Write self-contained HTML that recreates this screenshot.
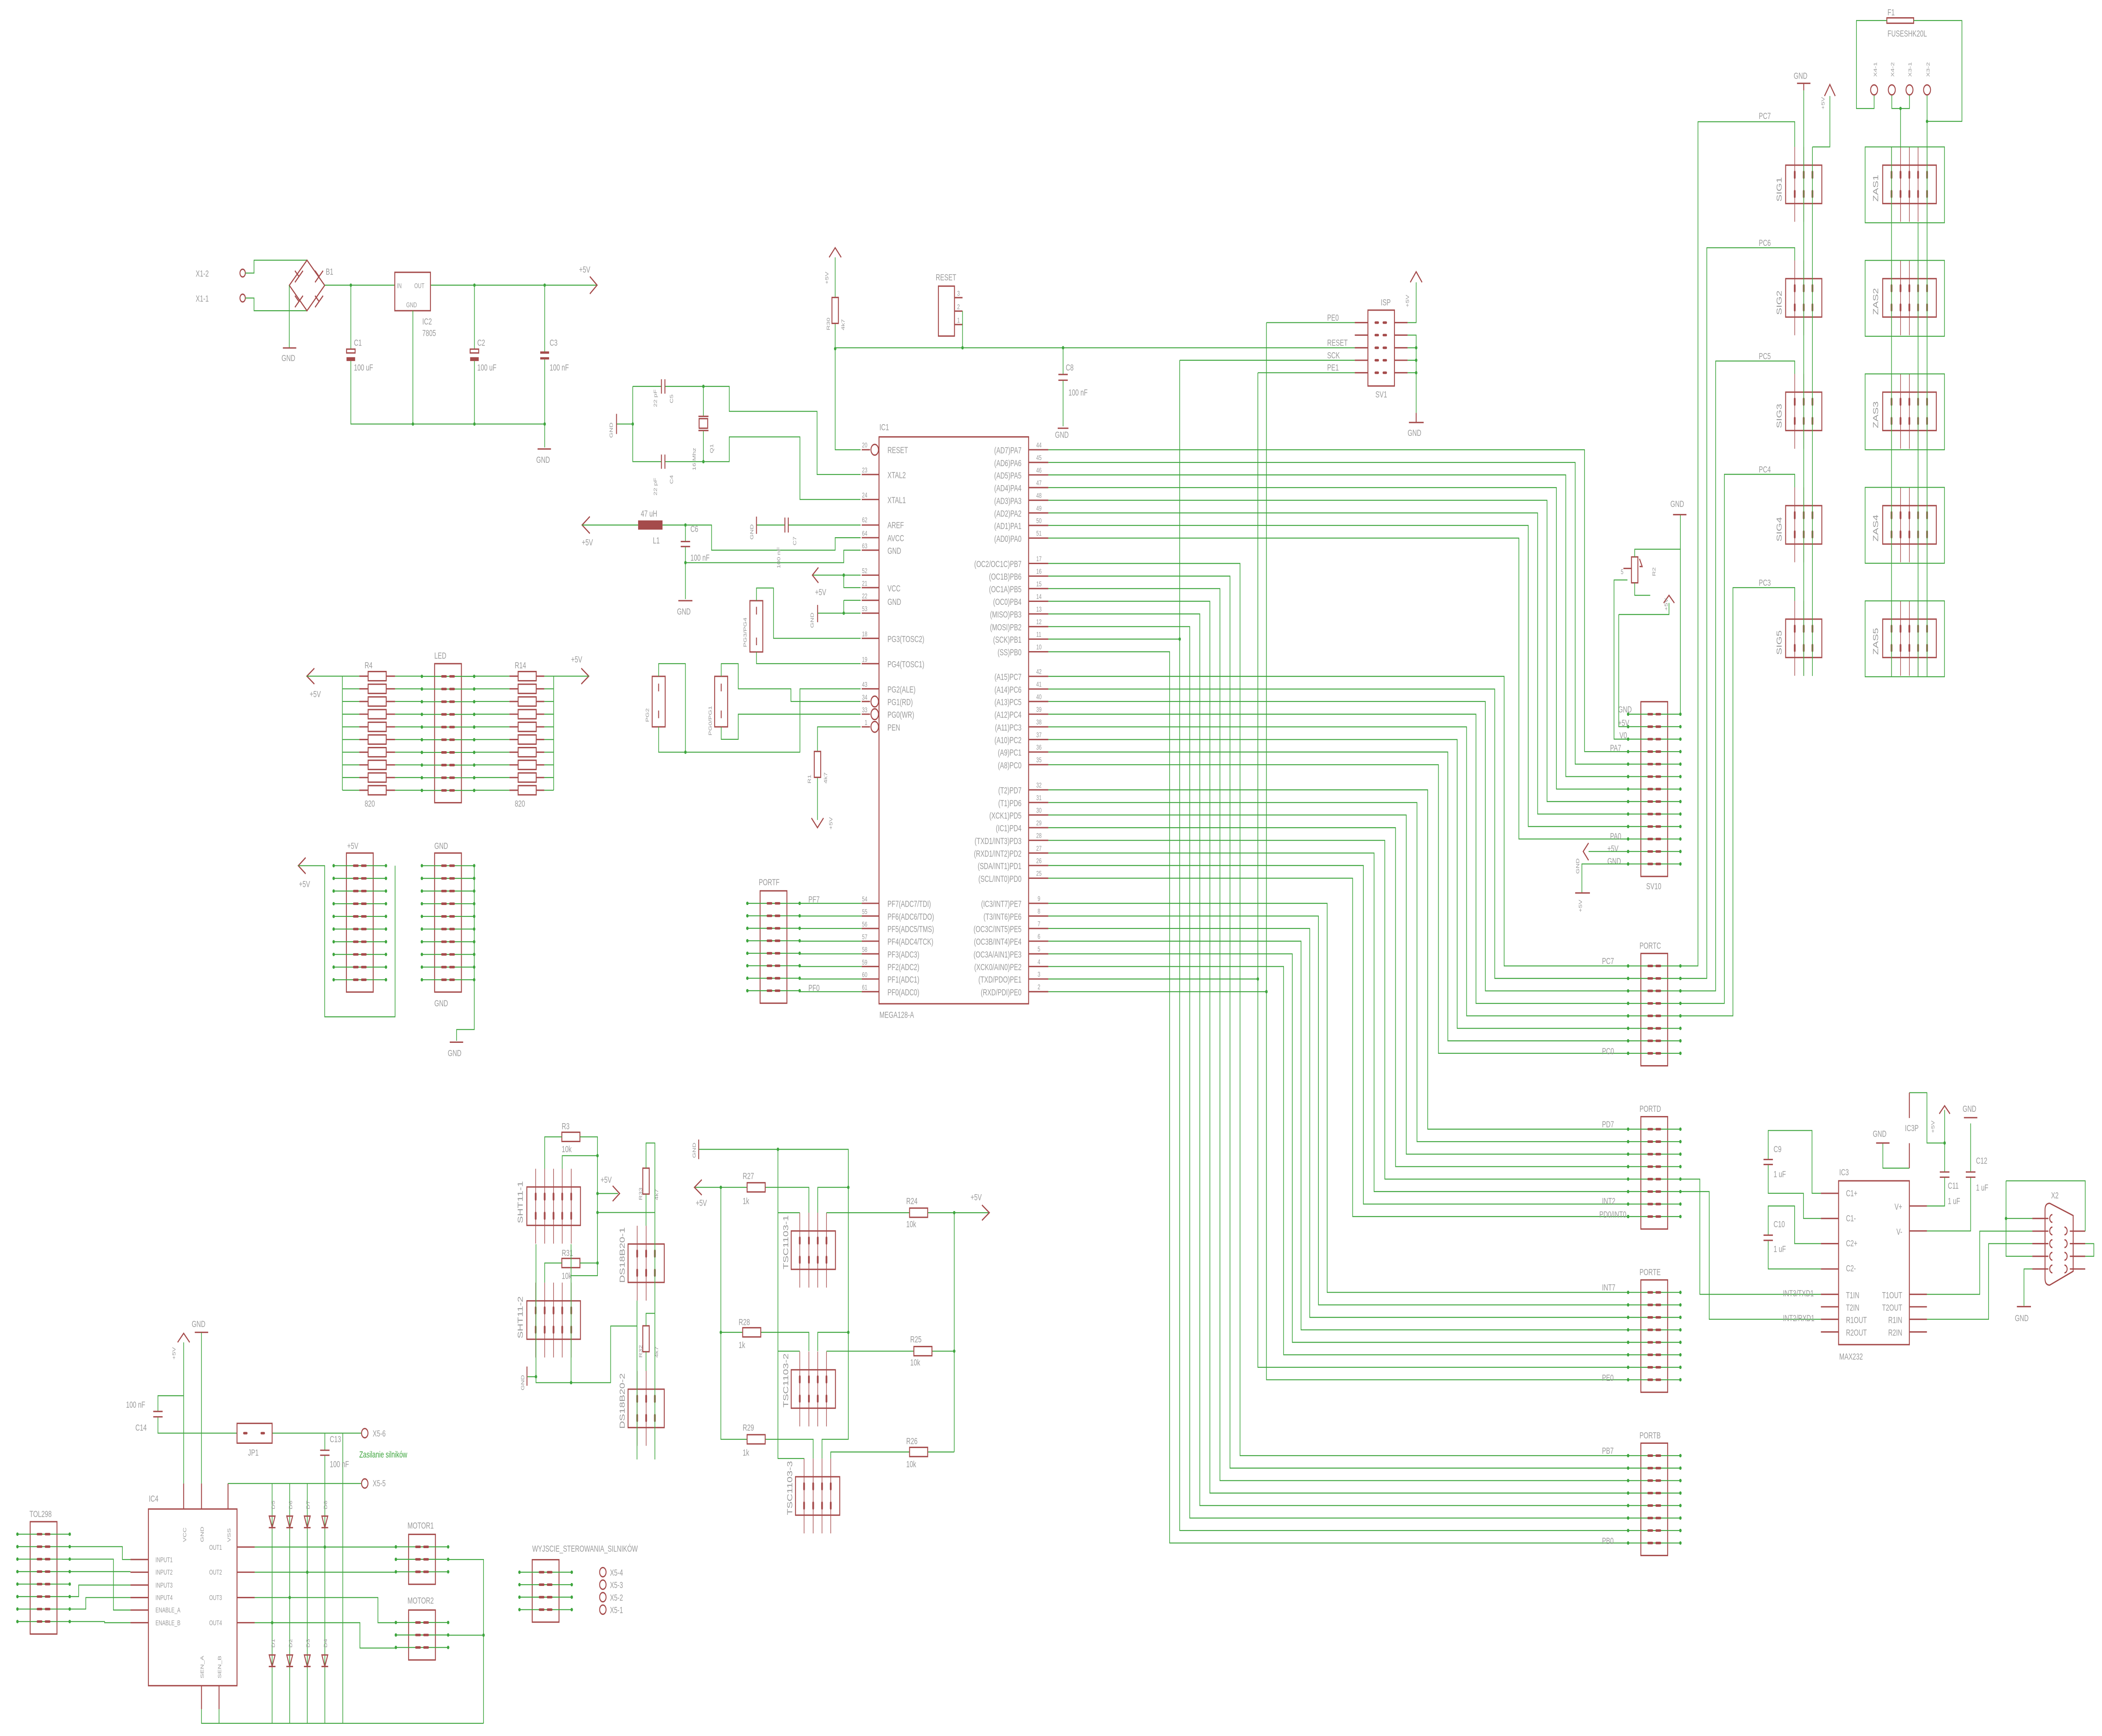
<!DOCTYPE html>
<html><head><meta charset="utf-8"><style>
html,body{margin:0;padding:0;background:#fff;width:100%;height:100%;overflow:hidden}
svg{display:block;position:fixed;left:0;top:0;width:100vw;height:100vh}
.r{stroke:#a54b4b;stroke-width:.7;fill:none}
.rf{fill:#a54b4b;stroke:none}
.g{stroke:#3ea53e;stroke-width:.5;fill:none}
.p{stroke:#a54b4b;stroke-width:1.3;stroke-linecap:round}
.d{fill:#3ea53e}
text{fill:#9a9a9a;font-family:"Liberation Sans",sans-serif;font-size:4.6px}
.s{font-size:3.6px}
.l{font-size:5.6px}
.e{text-anchor:end}
.gt{fill:#3ea53e}
</style></head><body>
<svg viewBox="0 0 1568 904" preserveAspectRatio="none" xmlns="http://www.w3.org/2000/svg">
<defs>
<g id="hr"><line class="g" x1="-9.5" y1="0" x2="29.5" y2="0"/><line class="p" x1="5.5" y1="0" x2="8.5" y2="0"/><line class="p" x1="11.5" y1="0" x2="14.5" y2="0"/><circle class="d" cx="-9.5" cy="0" r=".9"/><circle class="d" cx="29.5" cy="0" r=".9"/></g>
<g id="h3"><rect class="r" x="0" y="0" width="20" height="26"/><use href="#hr" y="6.5"/><use href="#hr" y="13"/><use href="#hr" y="19.5"/></g>
<g id="h4"><rect class="r" x="0" y="0" width="20" height="32.5"/><use href="#hr" y="6.5"/><use href="#hr" y="13"/><use href="#hr" y="19.5"/><use href="#hr" y="26"/></g>
<g id="h8"><rect class="r" x="0" y="0" width="20" height="58.5"/><use href="#hr" y="6.5"/><use href="#hr" y="13"/><use href="#hr" y="19.5"/><use href="#hr" y="26"/><use href="#hr" y="32.5"/><use href="#hr" y="39"/><use href="#hr" y="45.5"/><use href="#hr" y="52"/></g>
<g id="h10"><rect class="r" x="0" y="0" width="20" height="72.4"/><use href="#hr" y="6.6"/><use href="#hr" y="13.2"/><use href="#hr" y="19.8"/><use href="#hr" y="26.4"/><use href="#hr" y="33"/><use href="#hr" y="39.6"/><use href="#hr" y="46.2"/><use href="#hr" y="52.8"/><use href="#hr" y="59.4"/><use href="#hr" y="66"/></g>
<g id="h13"><rect class="r" x="0" y="0" width="20" height="91"/><use href="#hr" y="6.5"/><use href="#hr" y="13"/><use href="#hr" y="19.5"/><use href="#hr" y="26"/><use href="#hr" y="32.5"/><use href="#hr" y="39"/><use href="#hr" y="45.5"/><use href="#hr" y="52"/><use href="#hr" y="58.5"/><use href="#hr" y="65"/><use href="#hr" y="71.5"/><use href="#hr" y="78"/><use href="#hr" y="84.5"/></g>
<g id="vc"><line class="r" x1="0" y1="-9.5" x2="0" y2="29.5" style="stroke-width:.45"/><line class="p" x1="0" y1="3.5" x2="0" y2="6.5"/><line class="p" x1="0" y1="13.5" x2="0" y2="16.5"/></g>
<g id="c3"><rect class="r" x="0" y="0" width="27" height="20"/><use href="#vc" x="6.8"/><use href="#vc" x="13.5"/><use href="#vc" x="20"/></g>
<g id="c4"><rect class="r" x="0" y="0" width="33" height="20"/><use href="#vc" x="6.4"/><use href="#vc" x="13.2"/><use href="#vc" x="19.8"/><use href="#vc" x="26.3"/></g>
<g id="c5"><rect class="r" x="0" y="0" width="40" height="20"/><use href="#vc" x="6.6"/><use href="#vc" x="13.3"/><use href="#vc" x="19.9"/><use href="#vc" x="26.4"/><use href="#vc" x="33.1"/></g>
<g id="rh"><rect class="r" x="0" y="-2.4" width="13.5" height="4.8"/></g>
<g id="rv"><rect class="r" x="-2.4" y="0" width="4.8" height="13.5"/></g>
<g id="dio"><path class="r" d="M-2.2,-3 H2.2 L0,3 Z M-2.5,3 H2.5"/></g>
</defs>

<!-- POWER SUPPLY -->
<text x="146" y="144">X1-2</text><text x="146" y="157">X1-1</text>
<circle class="r" cx="181" cy="142.2" r="2"/><circle class="r" cx="181" cy="155.2" r="2"/>
<path class="g" d="M183,142.2 H189.5 V135.5 H229 M183,155.2 H189.5 V161.8 H229"/>
<path class="r" d="M229,135.5 L242.2,148.6 L229,161.8 L215.8,148.6 Z"/>
<path class="r" d="M220,141 l3,3 m-3,3 l6,-6 M235,141 l3,3 m-3,3 l6,-6 M220,154 l3,3 m-3,3 l6,-6 M235,154 l3,3 m-3,3 l6,-6"/>
<text x="243" y="143">B1</text>
<path class="g" d="M215.8,148.6 V181"/><line class="r" x1="211" y1="181.2" x2="221" y2="181.2"/><text x="210" y="188">GND</text>
<path class="g" d="M242.2,148.5 H294.5 M321.1,148.5 H445"/>
<path class="r" d="M440,144 L445.4,148.5 L440,153"/><text x="432" y="142">+5V</text>
<rect class="r" x="294.5" y="141.8" width="26.6" height="20"/><text class="s" x="296" y="150">IN</text><text class="s" x="309" y="150">OUT</text><text class="s" x="303" y="160">GND</text>
<text x="315" y="169">IC2</text><text x="315" y="175">7805</text>
<path class="g" d="M261.7,148.5 V182 M261.7,188 V220.8 H406.3 M308,161.8 V220.8 M353.9,148.5 V182 M353.9,188 V220.8 M406.3,148.5 V183.6 M406.3,186.6 V233"/>
<rect class="r" x="258.5" y="181.8" width="6.4" height="2"/><rect class="rf" x="258.5" y="186" width="6.4" height="2"/>
<rect class="r" x="350.7" y="181.8" width="6.4" height="2"/><rect class="rf" x="350.7" y="186" width="6.4" height="2"/>
<rect class="rf" x="403" y="183" width="6.6" height="1.2"/><rect class="rf" x="403" y="186" width="6.6" height="1.2"/>
<line class="r" x1="401" y1="233.8" x2="411" y2="233.8"/><text x="400" y="241">GND</text>
<text x="264" y="180">C1</text><text x="264" y="193">100 uF</text><text x="356" y="180">C2</text><text x="356" y="193">100 uF</text><text x="410" y="180">C3</text><text x="410" y="193">100 nF</text>
<circle class="d" cx="261.7" cy="148.5" r=".9"/><circle class="d" cx="353.9" cy="148.5" r=".9"/><circle class="d" cx="406.3" cy="148.5" r=".9"/><circle class="d" cx="308" cy="220.8" r=".9"/><circle class="d" cx="353.9" cy="220.8" r=".9"/><circle class="d" cx="406.3" cy="220.8" r=".9"/>

<!-- CRYSTAL / RESET / AVCC -->
<path class="g" d="M472,201.2 H493.4 M496,201.2 H544 V214.2 H609.5 V247.1 H642 M472,201.2 V240.4 H493.4 M496,240.4 H544 V227.5 H596.7 V260.1 H642 M524.7,201.2 V217 M524.7,224 V240.4 M459.9,220.8 H472"/>
<line class="r" x1="459.9" y1="215.5" x2="459.9" y2="226"/><text class="s" transform="translate(457,228) rotate(-90)">GND</text>
<path class="r" d="M493.4,197.5 V205 M496,197.5 V205 M493.4,236.7 V244.1 M496,236.7 V244.1"/>
<rect class="r" x="521.5" y="218" width="6.4" height="5"/><path class="r" d="M521,216.8 H528.5 M521,224.2 H528.5"/>
<text class="s" transform="translate(490,212) rotate(-90)">22 pF</text><text class="s" transform="translate(502,210) rotate(-90)">C5</text>
<text class="s" transform="translate(490,258) rotate(-90)">22 pF</text><text class="s" transform="translate(502,252) rotate(-90)">C4</text>
<text class="s" transform="translate(519,245) rotate(-90)">16 Mhz</text><text class="s" transform="translate(532,236) rotate(-90)">Q1</text>
<circle class="d" cx="524.7" cy="201.2" r=".9"/><circle class="d" cx="524.7" cy="240.4" r=".9"/><circle class="d" cx="472" cy="220.8" r=".9"/>
<path class="g" d="M623,134 V154.9 M623,168.5 V234.2 H642 M623,181.1 H1010.6"/>
<path class="r" d="M618.5,134 L623,129 L627.5,134"/><text class="s" transform="translate(618,148) rotate(-90)">+5V</text>
<use href="#rv" x="623" y="154.9"/><text class="s" transform="translate(619,172) rotate(-90)">R30</text><text class="s" transform="translate(630,172) rotate(-90)">4k7</text>
<circle class="d" cx="623" cy="181.6" r=".9"/>
<rect class="r" x="700" y="149" width="12" height="26"/><text x="698" y="146">RESET</text>
<path class="r" d="M712,155 H718 M712,162 H718 M712,169 H718"/><path class="g" d="M718,162 V181.1"/><circle class="d" cx="718" cy="181.1" r=".9"/>
<text class="s" x="714" y="154">3</text><text class="s" x="714" y="161">2</text><text class="s" x="714" y="168">1</text>
<path class="g" d="M793,181.1 V194.8 M793,198 V222"/><path class="r" d="M789.5,195 H796.5 M789.5,198 H796.5 M789,223 H797"/>
<circle class="d" cx="793" cy="181.1" r=".9"/>
<text x="795" y="193">C8</text><text x="797" y="206">100 nF</text><text x="787" y="228">GND</text>
<path class="r" d="M440,269 L434.2,273.4 L440,277.8"/><text x="434" y="284">+5V</text>
<path class="g" d="M434.2,273.4 H476 M494.2,273.4 H530.8 V286.5 H623 V280 H642 M511.3,273.4 V282 M511.3,284.6 V312 M511.3,293 H629.4 V286.5 H642"/>
<rect class="rf" x="476" y="271" width="18.2" height="4.8"/><text x="478" y="269">47 uH</text><text x="487" y="283">L1</text>
<path class="r" d="M507.8,282 H514.8 M507.8,284.6 H514.8 M506,312.8 H516.5"/><circle class="d" cx="511.3" cy="273.4" r=".9"/><circle class="d" cx="511.3" cy="293" r=".9"/>
<text x="515" y="277">C6</text><text x="515" y="292">100 nF</text><text x="505" y="320">GND</text>
<path class="g" d="M564.3,273.4 H585.5 M588,273.4 H642"/><path class="r" d="M564.3,269 V278 M585.5,269.5 V277.3 M588,269.5 V277.3"/>
<text class="s" transform="translate(562,281) rotate(-90)">GND</text><text class="s" transform="translate(582,296) rotate(-90)">100 nF</text><text class="s" transform="translate(594,284) rotate(-90)">C7</text>
<path class="g" d="M606,299.5 H642 M629.4,299.5 V306 H642 M629.4,312.6 H642 M609.9,319.3 H642 M629.4,312.6 V319.3"/>
<path class="r" d="M610.5,295.5 L606,299.5 L610.5,303.5"/><text x="608" y="310">+5V</text>
<line class="r" x1="609.9" y1="315" x2="609.9" y2="324"/><text class="s" transform="translate(607,327) rotate(-90)">GND</text>
<circle class="d" cx="629.4" cy="299.5" r=".9"/><circle class="d" cx="629.4" cy="319.3" r=".9"/>
<rect class="r" x="559.4" y="312.8" width="9.6" height="26.7"/><path class="r" d="M564.3,316 V320 M564.3,332 V336"/>
<text class="s" transform="translate(557,337) rotate(-90)">PG3/PG4</text>
<path class="g" d="M564.3,312.8 V306.2 H577 V332.4 H642 M564.3,339.5 V345.6 H642"/>
<rect class="r" x="486.5" y="352.2" width="9.7" height="26.3"/><path class="r" d="M491.3,356 V360 M491.3,370 V374"/><text class="s" transform="translate(484,376) rotate(-90)">PG2</text>
<rect class="r" x="533.1" y="352.2" width="9.7" height="26.3"/><path class="r" d="M538,356 V360 M538,370 V374"/><text class="s" transform="translate(531,383) rotate(-90)">PG0/PG1</text>
<path class="g" d="M491.3,352.2 V345.6 H511.3 V391.7 M491.3,378.5 V391.7 H596.7 V358.7 H642 M538,352.2 V345.6 H550.7 V358.7 H590 V365.3 H642 M538,378.5 V385 H550.7 V371.9 H642"/>
<circle class="d" cx="511.3" cy="391.7" r=".9"/>
<path class="g" d="M642,378.5 H609.8 V391.5 M609.8,404.7 V427"/><use href="#rv" x="609.8" y="391.3"/>
<path class="r" d="M605.3,426 L609.8,431 L614.3,426"/>
<text class="s" transform="translate(605,408) rotate(-90)">R1</text><text class="s" transform="translate(617,408) rotate(-90)">4k7</text><text class="s" transform="translate(621,432) rotate(-90)">+5V</text>

<!-- IC1 -->
<rect class="r" x="655.7" y="227.5" width="111.6" height="295.2"/>
<text x="656" y="224">IC1</text><text x="656" y="530">MEGA128-A</text>
<path class="r" d="M642.8,234.2 H649 M642.8,247.1 H655.7 M642.8,260.1 H655.7 M642.8,273.4 H655.7 M642.8,280 H655.7 M642.8,286.5 H655.7 M642.8,299.5 H655.7 M642.8,306 H655.7 M642.8,312.6 H655.7 M642.8,319.3 H655.7 M642.8,332.4 H655.7 M642.8,345.6 H655.7 M642.8,358.7 H655.7 M642.8,365.3 H649 M642.8,371.9 H649 M642.8,378.5 H649"/>
<circle class="r" cx="652.5" cy="234.2" r="2.8"/><circle class="r" cx="652.5" cy="365.3" r="2.8"/><circle class="r" cx="652.5" cy="371.9" r="2.8"/><circle class="r" cx="652.5" cy="378.5" r="2.8"/>
<path class="r" d="M642.8,470.4 H655.7 M642.8,477 H655.7 M642.8,483.5 H655.7 M642.8,490.1 H655.7 M642.8,496.7 H655.7 M642.8,503.3 H655.7 M642.8,509.8 H655.7 M642.8,516.4 H655.7"/>
<g>
<text class="s" x="643" y="233">20</text><text class="s" x="643" y="246">23</text><text class="s" x="643" y="259">24</text><text class="s" x="643" y="272">62</text><text class="s" x="643" y="279">64</text><text class="s" x="643" y="285.5">63</text><text class="s" x="643" y="298.5">52</text><text class="s" x="643" y="305">21</text><text class="s" x="643" y="311.6">22</text><text class="s" x="643" y="318.3">53</text><text class="s" x="643" y="331.4">18</text><text class="s" x="643" y="344.6">19</text><text class="s" x="643" y="357.7">43</text><text class="s" x="643" y="364.3">34</text><text class="s" x="643" y="370.9">33</text><text class="s" x="645" y="377.5">1</text>
<text class="s" x="643" y="469.4">54</text><text class="s" x="643" y="476">55</text><text class="s" x="643" y="482.5">56</text><text class="s" x="643" y="489.1">57</text><text class="s" x="643" y="495.7">58</text><text class="s" x="643" y="502.3">59</text><text class="s" x="643" y="508.8">60</text><text class="s" x="643" y="515.4">61</text>
</g>
<g>
<text x="662" y="236">RESET</text><text x="662" y="249">XTAL2</text><text x="662" y="262">XTAL1</text><text x="662" y="275">AREF</text><text x="662" y="281.8">AVCC</text><text x="662" y="288.4">GND</text><text x="662" y="308">VCC</text><text x="662" y="315">GND</text>
<text x="662" y="334.3">PG3(TOSC2)</text><text x="662" y="347.5">PG4(TOSC1)</text><text x="662" y="360.6">PG2(ALE)</text><text x="662" y="367.2">PG1(RD)</text><text x="662" y="373.8">PG0(WR)</text><text x="662" y="380.4">PEN</text>
<text x="662" y="472.3">PF7(ADC7/TDI)</text><text x="662" y="478.9">PF6(ADC6/TDO)</text><text x="662" y="485.4">PF5(ADC5/TMS)</text><text x="662" y="492">PF4(ADC4/TCK)</text><text x="662" y="498.6">PF3(ADC3)</text><text x="662" y="505.2">PF2(ADC2)</text><text x="662" y="511.7">PF1(ADC1)</text><text x="662" y="518.3">PF0(ADC0)</text>
</g>
<g>
<text class="e" x="762" y="236.1">(AD7)PA7</text><text class="e" x="762" y="242.7">(AD6)PA6</text><text class="e" x="762" y="249.2">(AD5)PA5</text><text class="e" x="762" y="255.8">(AD4)PA4</text><text class="e" x="762" y="262.4">(AD3)PA3</text><text class="e" x="762" y="269">(AD2)PA2</text><text class="e" x="762" y="275.5">(AD1)PA1</text><text class="e" x="762" y="282.1">(AD0)PA0</text>
<text class="e" x="762" y="295.3">(OC2/OC1C)PB7</text><text class="e" x="762" y="301.9">(OC1B)PB6</text><text class="e" x="762" y="308.4">(OC1A)PB5</text><text class="e" x="762" y="315">(OC0)PB4</text><text class="e" x="762" y="321.6">(MISO)PB3</text><text class="e" x="762" y="328.2">(MOSI)PB2</text><text class="e" x="762" y="334.7">(SCK)PB1</text><text class="e" x="762" y="341.3">(SS)PB0</text>
<text class="e" x="762" y="354.1">(A15)PC7</text><text class="e" x="762" y="360.7">(A14)PC6</text><text class="e" x="762" y="367.2">(A13)PC5</text><text class="e" x="762" y="373.8">(A12)PC4</text><text class="e" x="762" y="380.4">(A11)PC3</text><text class="e" x="762" y="387">(A10)PC2</text><text class="e" x="762" y="393.5">(A9)PC1</text><text class="e" x="762" y="400.1">(A8)PC0</text>
<text class="e" x="762" y="413.2">(T2)PD7</text><text class="e" x="762" y="419.8">(T1)PD6</text><text class="e" x="762" y="426.3">(XCK1)PD5</text><text class="e" x="762" y="432.9">(IC1)PD4</text><text class="e" x="762" y="439.5">(TXD1/INT3)PD3</text><text class="e" x="762" y="446.1">(RXD1/INT2)PD2</text><text class="e" x="762" y="452.6">(SDA/INT1)PD1</text><text class="e" x="762" y="459.2">(SCL/INT0)PD0</text>
<text class="e" x="762" y="472.3">(IC3/INT7)PE7</text><text class="e" x="762" y="478.9">(T3/INT6)PE6</text><text class="e" x="762" y="485.4">(OC3C/INT5)PE5</text><text class="e" x="762" y="492">(OC3B/INT4)PE4</text><text class="e" x="762" y="498.6">(OC3A/AIN1)PE3</text><text class="e" x="762" y="505.2">(XCK0/AIN0)PE2</text><text class="e" x="762" y="511.7">(TXD/PDO)PE1</text><text class="e" x="762" y="518.3">(RXD/PDI)PE0</text>
</g>
<g class="r">
<path d="M767.3,234.2 H782 M767.3,240.8 H782 M767.3,247.3 H782 M767.3,253.9 H782 M767.3,260.5 H782 M767.3,267.1 H782 M767.3,273.6 H782 M767.3,280.2 H782"/>
<path d="M767.3,293.4 H782 M767.3,300 H782 M767.3,306.5 H782 M767.3,313.1 H782 M767.3,319.7 H782 M767.3,326.3 H782 M767.3,332.8 H782 M767.3,339.4 H782"/>
<path d="M767.3,352.2 H782 M767.3,358.8 H782 M767.3,365.3 H782 M767.3,371.9 H782 M767.3,378.5 H782 M767.3,385.1 H782 M767.3,391.6 H782 M767.3,398.2 H782"/>
<path d="M767.3,411.3 H782 M767.3,417.9 H782 M767.3,424.4 H782 M767.3,431 H782 M767.3,437.6 H782 M767.3,444.2 H782 M767.3,450.7 H782 M767.3,457.3 H782"/>
<path d="M767.3,470.4 H782 M767.3,477 H782 M767.3,483.5 H782 M767.3,490.1 H782 M767.3,496.7 H782 M767.3,503.3 H782 M767.3,509.8 H782 M767.3,516.4 H782"/>
</g>
<g>
<text class="s" x="773" y="233">44</text><text class="s" x="773" y="239.6">45</text><text class="s" x="773" y="246.1">46</text><text class="s" x="773" y="252.7">47</text><text class="s" x="773" y="259.3">48</text><text class="s" x="773" y="265.9">49</text><text class="s" x="773" y="272.4">50</text><text class="s" x="773" y="279">51</text>
<text class="s" x="773" y="292.2">17</text><text class="s" x="773" y="298.8">16</text><text class="s" x="773" y="305.3">15</text><text class="s" x="773" y="311.9">14</text><text class="s" x="773" y="318.5">13</text><text class="s" x="773" y="325.1">12</text><text class="s" x="773" y="331.6">11</text><text class="s" x="773" y="338.2">10</text>
<text class="s" x="773" y="351">42</text><text class="s" x="773" y="357.6">41</text><text class="s" x="773" y="364.1">40</text><text class="s" x="773" y="370.7">39</text><text class="s" x="773" y="377.3">38</text><text class="s" x="773" y="383.9">37</text><text class="s" x="773" y="390.4">36</text><text class="s" x="773" y="397">35</text>
<text class="s" x="773" y="410.1">32</text><text class="s" x="773" y="416.7">31</text><text class="s" x="773" y="423.2">30</text><text class="s" x="773" y="429.8">29</text><text class="s" x="773" y="436.4">28</text><text class="s" x="773" y="443">27</text><text class="s" x="773" y="449.5">26</text><text class="s" x="773" y="456.1">25</text>
<text class="s" x="774" y="469.2">9</text><text class="s" x="774" y="475.8">8</text><text class="s" x="774" y="482.3">7</text><text class="s" x="774" y="488.9">6</text><text class="s" x="774" y="495.5">5</text><text class="s" x="774" y="502.1">4</text><text class="s" x="774" y="508.6">3</text><text class="s" x="774" y="515.2">2</text>
</g>

<!-- NETS -->
<g class="g">
<path d="M782,234.2 H1182 V391.4 H1214.5 M782,240.8 H1175 V397.9 H1214.5 M782,247.3 H1168 V404.4 H1214.5 M782,253.9 H1161 V410.9 H1214.5 M782,260.5 H1154 V417.4 H1214.5 M782,267.1 H1147 V423.9 H1214.5 M782,273.6 H1140 V430.4 H1214.5 M782,280.2 H1133 V436.9 H1214.5"/>
<path d="M782,293.4 H925 V758 H1214.5 M782,300 H917.5 V764.5 H1214.5 M782,306.5 H910 V771 H1214.5 M782,313.1 H902.5 V777.5 H1214.5 M782,319.7 H895 V784 H1214.5 M782,326.3 H887.5 V790.5 H1214.5 M782,332.8 H880 V797 H1214.5 M782,339.4 H872.5 V803.5 H1214.5"/>
<path d="M782,352.2 H1122 V503 H1214.5 M782,358.8 H1115 V509.5 H1214.5 M782,365.3 H1108 V516 H1214.5 M782,371.9 H1101 V522.5 H1214.5 M782,378.5 H1094 V529 H1214.5 M782,385.1 H1087 V535.5 H1214.5 M782,391.6 H1080 V542 H1214.5 M782,398.2 H1073 V548.5 H1214.5"/>
<path d="M782,411.3 H1065 V588 H1214.5 M782,417.9 H1057 V594.5 H1214.5 M782,424.4 H1049 V601 H1214.5 M782,431 H1041 V607.5 H1214.5 M782,437.6 H1033 V614 H1214.5 M782,444.2 H1025 V620.5 H1214.5 M782,450.7 H1017 V627 H1214.5 M782,457.3 H1009 V633.5 H1214.5"/>
<path d="M782,470.4 H990 V673 H1214.5 M782,477 H983.5 V679.5 H1214.5 M782,483.5 H977 V686 H1214.5 M782,490.1 H970.5 V692.5 H1214.5 M782,496.7 H964 V699 H1214.5 M782,503.3 H957.5 V705.5 H1214.5 M782,509.8 H938.3 V712 H1214.5 M782,516.4 H944.7 V718.5 H1214.5"/>
<path d="M880,187.6 V332.8 M944.7,168 V516.4 M938.3,194.1 V509.8"/>
</g>
<circle class="d" cx="880" cy="332.8" r=".9"/><circle class="d" cx="944.7" cy="516.4" r=".9"/><circle class="d" cx="938.3" cy="509.8" r=".9"/>

<!-- ISP SV1 -->
<rect class="r" x="1020.4" y="161.5" width="19.8" height="39.5"/>
<path class="p" d="M1026,168 h2 M1032,168 h2 M1026,174.5 h2 M1032,174.5 h2 M1026,181.1 h2 M1032,181.1 h2 M1026,187.6 h2 M1032,187.6 h2 M1026,194.1 h2 M1032,194.1 h2"/>
<path class="r" d="M1010.6,168 H1020.4 M1010.6,174.5 H1020.4 M1010.6,181.1 H1020.4 M1010.6,187.6 H1020.4 M1010.6,194.1 H1020.4 M1040.2,168 H1050 M1040.2,174.5 H1050 M1040.2,181.1 H1050 M1040.2,187.6 H1050 M1040.2,194.1 H1050"/>
<path class="g" d="M944.7,168 H1010.6 M880,187.6 H1010.6 M938.3,194.1 H1010.6 M1050,168 H1056.4 V147 M1050,174.5 H1056.4 V215 M1050,181.1 H1056.4 M1050,187.6 H1056.4 M1050,194.1 H1056.4"/>
<path class="r" d="M1052,147 L1056.4,141.5 L1060.8,147 M1051,220 H1062 M1056.4,215 V220"/>
<circle class="d" cx="1056.4" cy="181.1" r=".9"/><circle class="d" cx="1056.4" cy="187.6" r=".9"/><circle class="d" cx="1056.4" cy="194.1" r=".9"/>
<text x="1030" y="159">ISP</text><text x="1026" y="207">SV1</text><text x="1050" y="227">GND</text><text class="s" transform="translate(1051,160) rotate(-90)">+5V</text>
<text x="990" y="167">PE0</text><text x="990" y="180">RESET</text><text x="990" y="186.6">SCK</text><text x="990" y="193">PE1</text>

<!-- SV10 and ports -->
<use href="#h13" x="1224" y="365.4"/><text x="1228" y="463">SV10</text>
<text x="1207" y="371">GND</text><text x="1207" y="378">+5V</text><text x="1208" y="384.5">V0</text><text x="1201" y="391">PA7</text><text x="1201" y="437">PA0</text><text x="1199" y="443.5">+5V</text><text x="1199" y="450">GND</text>
<path class="g" d="M1253.5,371.9 V268 M1214.5,378.4 H1207.5 V320 M1214.5,384.9 H1204 V302 H1214 M1207.5,320 H1245 V314 M1214.5,443.4 H1185 M1214.5,449.9 H1180 V465"/>
<path class="r" d="M1248,268 H1258 M1241,314 L1245,310 L1249,314 M1175,465 H1186 M1185,448 L1181,443.4 L1185,439"/>
<text x="1246" y="264">GND</text><text class="s" transform="translate(1244,318) rotate(-90)">+5V</text><text class="s" transform="translate(1178,455) rotate(-90)">GND</text><text class="s" transform="translate(1180,475) rotate(-90)">+5V</text>
<rect class="r" x="1217" y="290" width="4.8" height="13.5"/><path class="r" d="M1223,291 l2,4 l-2,0 M1211,296 H1217"/><text class="s" transform="translate(1235,300) rotate(-90)">R2</text><text class="s" x="1209" y="299">5</text>
<path class="g" d="M1219.4,290 V286 H1253.5 M1219.4,303.5 V310 H1231"/>

<use href="#h8" x="1224" y="496.5"/><text x="1223" y="494">PORTC</text><text x="1195" y="502">PC7</text><text x="1195" y="549">PC0</text>
<use href="#h8" x="1224" y="581.5"/><text x="1223" y="579">PORTD</text><text x="1195" y="587">PD7</text><text x="1195" y="627">INT2</text><text x="1193" y="634">PD0/INT0</text>
<use href="#h8" x="1224" y="666.5"/><text x="1223" y="664">PORTE</text><text x="1195" y="672">INT7</text><text x="1195" y="719">PE0</text>
<use href="#h8" x="1224" y="751.5"/><text x="1223" y="749">PORTB</text><text x="1195" y="757">PB7</text><text x="1195" y="804">PB0</text>
<path class="g" d="M1253.5,503 H1266.6 V63.4 H1338.8 V76.5 M1253.5,509.5 H1273.2 V129 H1338.8 V135.6 M1253.5,516 H1279.8 V188 H1338.8 V194.7 M1253.5,522.5 H1286.3 V247 H1338.8 V253.8 M1253.5,529 H1292.7 V306 H1338.8 V312.9"/>
<text x="1312" y="62">PC7</text><text x="1312" y="128">PC6</text><text x="1312" y="187">PC5</text><text x="1312" y="246">PC4</text><text x="1312" y="305">PC3</text>
<path class="g" d="M1253.5,620.5 H1275 V687 H1358.3 M1253.5,614 H1268 V674 H1358.3"/>

<!-- SIG / ZAS -->
<use href="#c3" x="1332" y="86"/><use href="#c3" x="1332" y="145.1"/><use href="#c3" x="1332" y="204.2"/><use href="#c3" x="1332" y="263.3"/><use href="#c3" x="1332" y="322.4"/>
<text class="l" transform="translate(1329,105) rotate(-90)">SIG1</text><text class="l" transform="translate(1329,164) rotate(-90)">SIG2</text><text class="l" transform="translate(1329,223) rotate(-90)">SIG3</text><text class="l" transform="translate(1329,282) rotate(-90)">SIG4</text><text class="l" transform="translate(1329,341) rotate(-90)">SIG5</text>
<path class="g" d="M1345.5,46 V352 M1352,76.5 V352 M1352,76.5 H1365 V50"/>
<path class="r" d="M1340.5,43.4 H1350.5 M1345.5,43.4 V47 M1361,50 L1365,44 L1369,50"/>
<text x="1338" y="41">GND</text><text class="s" transform="translate(1361,57) rotate(-90)">+5V</text>
<use href="#c5" x="1404.4" y="86"/><use href="#c5" x="1404.4" y="145.1"/><use href="#c5" x="1404.4" y="204.2"/><use href="#c5" x="1404.4" y="263.3"/><use href="#c5" x="1404.4" y="322.4"/>
<text class="l" transform="translate(1401,105) rotate(-90)">ZAS1</text><text class="l" transform="translate(1401,164) rotate(-90)">ZAS2</text><text class="l" transform="translate(1401,223) rotate(-90)">ZAS3</text><text class="l" transform="translate(1401,282) rotate(-90)">ZAS4</text><text class="l" transform="translate(1401,341) rotate(-90)">ZAS5</text>
<g class="g">
<path d="M1391.3,76.5 H1450.5 V116 H1391.3 Z M1391.3,135.6 H1450.5 V175.1 H1391.3 Z M1391.3,194.7 H1450.5 V234.2 H1391.3 Z M1391.3,253.8 H1450.5 V293.3 H1391.3 Z M1391.3,312.9 H1450.5 V352.4 H1391.3 Z"/>
<path d="M1411,76.5 V352.4 M1430.8,116 V352.4 M1437.5,63.2 V352.4 M1417.7,56.5 V76.5"/>
</g>
<rect class="r" x="1407.5" y="9.3" width="20" height="2.8"/><text x="1408" y="8">F1</text><text x="1408" y="19">FUSESHK20L</text>
<path class="g" d="M1407.5,10.7 H1384.8 V56.5 H1398 V49.5 M1427.5,10.7 H1463.5 V63.2 H1437.5 V49.5 M1411.2,49.5 V56.5 H1424.4 V49.5"/>
<circle class="r" cx="1398" cy="46.8" r="2.6"/><circle class="r" cx="1411.2" cy="46.8" r="2.6"/><circle class="r" cx="1424.4" cy="46.8" r="2.6"/><circle class="r" cx="1437.5" cy="46.8" r="2.6"/>
<text class="s" transform="translate(1400,40) rotate(-90)">X4-1</text><text class="s" transform="translate(1413,40) rotate(-90)">X4-2</text><text class="s" transform="translate(1426,40) rotate(-90)">X3-1</text><text class="s" transform="translate(1439.5,40) rotate(-90)">X3-2</text>
<circle class="d" cx="1417.7" cy="56.5" r=".9"/><circle class="d" cx="1437.5" cy="63.2" r=".9"/>

<!-- MAX232 -->
<rect class="r" x="1371.5" y="614.9" width="52.8" height="85.3"/><text x="1372" y="612">IC3</text><text x="1372" y="708">MAX232</text>
<path class="r" d="M1358.3,621.4 H1371.5 M1358.3,634.5 H1371.5 M1358.3,647.6 H1371.5 M1358.3,660.8 H1371.5 M1358.3,674 H1371.5 M1358.3,680.5 H1371.5 M1358.3,687 H1371.5 M1358.3,693.6 H1371.5 M1424.3,628 H1437.4 M1424.3,641 H1437.4 M1424.3,674 H1437.4 M1424.3,680.5 H1437.4 M1424.3,687 H1437.4 M1424.3,693.6 H1437.4"/>
<text x="1377" y="623">C1+</text><text x="1377" y="636">C1-</text><text x="1377" y="649">C2+</text><text x="1377" y="662">C2-</text><text x="1377" y="676">T1IN</text><text x="1377" y="682.5">T2IN</text><text x="1377" y="689">R1OUT</text><text x="1377" y="695.5">R2OUT</text>
<text class="e" x="1419" y="630">V+</text><text class="e" x="1419" y="643">V-</text><text class="e" x="1419" y="676">T1OUT</text><text class="e" x="1419" y="682.5">T2OUT</text><text class="e" x="1419" y="689">R1IN</text><text class="e" x="1419" y="695.5">R2IN</text>
<text x="1330" y="675">INT3/TXD1</text><text x="1330" y="688">INT2/RXD1</text>
<path class="g" d="M1319,603.8 V588.7 H1351.7 V621.4 H1358.3 M1319,606.4 V621.4 H1345.3 V634.5 H1358.3 M1319,643.2 V628 H1338.7 V647.6 H1358.3 M1319,645.9 V660.8 H1358.3"/>
<path class="r" d="M1315.5,603.8 H1322.5 M1315.5,606.4 H1322.5 M1315.5,643.2 H1322.5 M1315.5,645.9 H1322.5"/>
<text x="1323" y="600">C9</text><text x="1323" y="613">1 uF</text><text x="1323" y="639">C10</text><text x="1323" y="652">1 uF</text>
<path class="g" d="M1404.5,595.2 V608.3 H1424.3 M1424.3,569 H1437.4 V595.2 H1450.6 V578 M1450.6,595.2 V610.3 M1450.6,613 V628 H1437.4 M1470,585 V610.3 M1470,613 V641 H1437.4"/>
<path class="r" d="M1399.5,595.2 H1409.5 M1424.3,569 V582.2 M1424.3,595.3 V608.3 M1447,610.3 H1454.2 M1447,613 H1454.2 M1466.4,610.3 H1473.6 M1466.4,613 H1473.6 M1465,582 H1475 M1446.6,580 L1450.6,575.8 L1454.6,580"/>
<circle class="d" cx="1450.6" cy="595.2" r=".9"/>
<text x="1397" y="592">GND</text><text x="1421" y="589">IC3P</text><text x="1464" y="579">GND</text><text class="s" transform="translate(1443,590) rotate(-90)">+5V</text>
<text x="1453" y="619">C11</text><text x="1453" y="627">1 uF</text><text x="1474" y="606">C12</text><text x="1474" y="620">1 uF</text>
<path class="r" d="M1525.5,630 Q1525.5,626.6 1529,626.6 L1546.5,633 L1546.5,662 L1529,669.2 Q1525.5,669.2 1525.5,665.8 Z"/>
<path class="r" d="M1531,632.5 a2,2 0 0,0 0,4 M1531,639 a2,2 0 0,0 0,4 M1531,645.6 a2,2 0 0,0 0,4 M1531,652.2 a2,2 0 0,0 0,4 M1531,658.8 a2,2 0 0,0 0,4 M1540,639 a2,2 0 0,1 0,4 M1540,645.6 a2,2 0 0,1 0,4 M1540,652.2 a2,2 0 0,1 0,4 M1540,658.8 a2,2 0 0,1 0,4"/>
<path class="r" d="M1516,634.5 H1528 M1516,641.1 H1528 M1516,647.6 H1528 M1516,654.2 H1528 M1516,660.8 H1528 M1544,641.1 H1555.5 M1544,647.6 H1555.5 M1544,654.2 H1555.5 M1544,660.8 H1555.5"/>
<text x="1530" y="624">X2</text>
<path class="g" d="M1437.4,674 H1476.8 V641.1 H1516 M1437.4,687 H1483.4 V647.6 H1516 M1496.4,614.9 V654.2 H1516 M1496.4,634.5 H1516 M1496.4,614.9 H1555.5 V641.1 M1555.5,647.6 H1561.9 V654.2 H1555.5 M1516,660.8 H1509.8 V680"/>
<path class="r" d="M1504.5,680.4 H1515"/><circle class="d" cx="1496.4" cy="634.5" r=".9"/><text x="1503" y="688">GND</text>

<!-- LED section -->
<use href="#h10" x="324.2" y="345.6"/><text x="324" y="343">LED</text>
<path class="r" d="M234.5,348 L228.9,352.1 L234.5,356.2 M433.6,348 L439.2,352.1 L433.6,356.2"/>
<path class="g" d="M228.9,352.1 H268 M255.4,352.1 V411.5 M255.4,358.7 H268 M255.4,365.3 H268 M255.4,371.9 H268 M255.4,378.5 H268 M255.4,385.1 H268 M255.4,391.7 H268 M255.4,398.3 H268 M255.4,404.9 H268 M255.4,411.5 H268 M294.7,352.1 H314.7 M294.7,358.7 H314.7 M294.7,365.3 H314.7 M294.7,371.9 H314.7 M294.7,378.5 H314.7 M294.7,385.1 H314.7 M294.7,391.7 H314.7 M294.7,398.3 H314.7 M294.7,404.9 H314.7 M294.7,411.5 H314.7"/>
<path class="g" d="M353.7,352.1 H380 M353.7,358.7 H380 M353.7,365.3 H380 M353.7,371.9 H380 M353.7,378.5 H380 M353.7,385.1 H380 M353.7,391.7 H380 M353.7,398.3 H380 M353.7,404.9 H380 M353.7,411.5 H380 M406,352.1 H439.2 M413,352.1 V411.5 M406,358.7 H413 M406,365.3 H413 M406,371.9 H413 M406,378.5 H413 M406,385.1 H413 M406,391.7 H413 M406,398.3 H413 M406,404.9 H413 M406,411.5 H413"/>
<g class="r"><path d="M268,352.1 H274.6 M288.1,352.1 H294.7 M268,358.7 H274.6 M288.1,358.7 H294.7 M268,365.3 H274.6 M288.1,365.3 H294.7 M268,371.9 H274.6 M288.1,371.9 H294.7 M268,378.5 H274.6 M288.1,378.5 H294.7 M268,385.1 H274.6 M288.1,385.1 H294.7 M268,391.7 H274.6 M288.1,391.7 H294.7 M268,398.3 H274.6 M288.1,398.3 H294.7 M268,404.9 H274.6 M288.1,404.9 H294.7 M268,411.5 H274.6 M288.1,411.5 H294.7"/>
<path d="M380,352.1 H386.5 M399.9,352.1 H406 M380,358.7 H386.5 M399.9,358.7 H406 M380,365.3 H386.5 M399.9,365.3 H406 M380,371.9 H386.5 M399.9,371.9 H406 M380,378.5 H386.5 M399.9,378.5 H406 M380,385.1 H386.5 M399.9,385.1 H406 M380,391.7 H386.5 M399.9,391.7 H406 M380,398.3 H386.5 M399.9,398.3 H406 M380,404.9 H386.5 M399.9,404.9 H406 M380,411.5 H386.5 M399.9,411.5 H406"/></g>
<use href="#rh" x="274.6" y="352.1"/><use href="#rh" x="274.6" y="358.7"/><use href="#rh" x="274.6" y="365.3"/><use href="#rh" x="274.6" y="371.9"/><use href="#rh" x="274.6" y="378.5"/><use href="#rh" x="274.6" y="385.1"/><use href="#rh" x="274.6" y="391.7"/><use href="#rh" x="274.6" y="398.3"/><use href="#rh" x="274.6" y="404.9"/><use href="#rh" x="274.6" y="411.5"/>
<use href="#rh" x="386.5" y="352.1"/><use href="#rh" x="386.5" y="358.7"/><use href="#rh" x="386.5" y="365.3"/><use href="#rh" x="386.5" y="371.9"/><use href="#rh" x="386.5" y="378.5"/><use href="#rh" x="386.5" y="385.1"/><use href="#rh" x="386.5" y="391.7"/><use href="#rh" x="386.5" y="398.3"/><use href="#rh" x="386.5" y="404.9"/><use href="#rh" x="386.5" y="411.5"/>
<text x="272" y="348">R4</text><text x="272" y="420">820</text><text x="384" y="348">R14</text><text x="384" y="420">820</text><text x="231" y="363">+5V</text><text x="426" y="345">+5V</text>
<use href="#h10" x="258.4" y="444.2"/><use href="#h10" x="324.2" y="444.2"/>
<text x="259" y="442">+5V</text><text x="324" y="442">GND</text><text x="324" y="524">GND</text>
<path class="r" d="M228,446.6 L222.5,450.8 L228,455"/><text x="223" y="462">+5V</text>
<path class="g" d="M222.5,450.8 H242.2 V529.5 H294.7 V450.8 M353.8,450.8 V536.1 H340.6 V542"/>
<line class="r" x1="335.5" y1="542.7" x2="345.5" y2="542.7"/><text x="334" y="550">GND</text>
<use href="#h8" x="567" y="463.9"/><text x="566" y="461">PORTF</text><text x="603" y="470">PF7</text><text x="603" y="516">PF0</text>
<path class="g" d="M596.5,470.4 H642.8 M596.5,477 H642.8 M596.5,483.5 H642.8 M596.5,490.1 H642.8 M596.5,496.7 H642.8 M596.5,503.3 H642.8 M596.5,509.8 H642.8 M596.5,516.4 H642.8"/>

<!-- SHT11 / DS18B20 -->
<use href="#c5" x="393" y="618.1"/><use href="#c5" x="393" y="677.4"/>
<text class="l" transform="translate(390,637) rotate(-90)">SHT11-1</text><text class="l" transform="translate(390,697) rotate(-90)">SHT11-2</text>
<use href="#rh" x="419.1" y="592"/><use href="#rh" x="419.1" y="657.7"/>
<text x="419" y="588">R3</text><text x="419" y="600">10k</text><text x="419" y="654">R31</text><text x="419" y="666">10k</text>
<path class="g" d="M406.3,608.6 V592 H419.1 M432.6,592 H445.7 V664.3 H426 V720 M445.7,601.8 H419.4 V608.6 M445.7,621.5 H461 M445.7,631.4 H488.5 M445.7,657.7 H432.6 M419.1,657.7 H406.3 V667.9 M399.8,647.9 V720 H455.5 V690.5 H475.2 M426,647.9 V667.9 M393.5,716.9 H399.8"/>
<path class="r" d="M457,617.5 L462.2,621.5 L457,625.5 M393.1,711.6 V721.6"/>
<text x="448" y="616">+5V</text><text class="s" transform="translate(391,724) rotate(-90)">GND</text>
<circle class="d" cx="445.7" cy="601.8" r=".9"/><circle class="d" cx="445.7" cy="621.5" r=".9"/><circle class="d" cx="445.7" cy="631.4" r=".9"/><circle class="d" cx="445.7" cy="657.7" r=".9"/><circle class="d" cx="399.8" cy="716.9" r=".9"/><circle class="d" cx="426" cy="720" r=".9"/>
<use href="#c3" x="468.5" y="647.8"/><use href="#c3" x="468.5" y="723.4"/>
<text class="l" transform="translate(466,668) rotate(-90)">DS18B20-1</text><text class="l" transform="translate(466,744) rotate(-90)">DS18B20-2</text>
<use href="#rv" x="481.9" y="608.3"/><use href="#rv" x="481.9" y="690.4"/>
<text class="s" transform="translate(479,625) rotate(-90)">R33</text><text class="s" transform="translate(491,625) rotate(-90)">4k7</text><text class="s" transform="translate(479,707) rotate(-90)">R32</text><text class="s" transform="translate(491,707) rotate(-90)">4k7</text>
<path class="g" d="M481.9,608.3 V595.2 H488.5 V760 M481.9,621.8 V638.3 M475.2,677.3 V760 M481.9,690.4 V683.9 H488.5 M481.9,703.9 V713.9"/>

<!-- TSC1103 -->
<use href="#c4" x="590.2" y="641"/><use href="#c4" x="590.2" y="713.3"/><use href="#c4" x="593.4" y="769"/>
<text class="l" transform="translate(588,661) rotate(-90)">TSC1103-1</text><text class="l" transform="translate(588,733) rotate(-90)">TSC1103-2</text><text class="l" transform="translate(591,789) rotate(-90)">TSC1103-3</text>
<path class="g" d="M521.2,598.5 H632.8 V749.5 H613.2 V759.5 M580.3,598.5 V759.5 H600 M580.3,631.5 H596.6 M580.3,703.6 H596.6 M632.8,618.3 H610 V631.5 M632.8,693.8 H610 V703.6 M518,618.3 H557.3 M570.8,618.3 H603.4 V631.5 M537.7,618.3 V749.5 H557.3 M537.7,693.8 H554 M567.5,693.8 H603.4 V703.6 M570.8,749.5 H606.6 V759.5 M616.5,631.5 H678.5 M692.2,631.5 H738 M711.8,631.5 V756.1 M616.5,703.6 H681.7 M695.4,703.6 H711.8 M619.7,759.5 V756.1 H678.5 M692.2,756.1 H711.8"/>
<path class="r" d="M521.2,593.4 V603.6 M523.5,614.3 L518,618.3 L523.5,622.3 M732.5,627.5 L738,631.5 L732.5,635.5"/>
<use href="#rh" x="557.3" y="618.3"/><use href="#rh" x="554" y="693.8"/><use href="#rh" x="557.3" y="749.5"/><use href="#rh" x="678.5" y="631.5"/><use href="#rh" x="681.7" y="703.6"/><use href="#rh" x="678.5" y="756.1"/>
<text x="554" y="614">R27</text><text x="554" y="627">1k</text><text x="551" y="690">R28</text><text x="551" y="702">1k</text><text x="554" y="745">R29</text><text x="554" y="758">1k</text>
<text x="676" y="627">R24</text><text x="676" y="639">10k</text><text x="679" y="699">R25</text><text x="679" y="711">10k</text><text x="676" y="752">R26</text><text x="676" y="764">10k</text>
<text x="519" y="628">+5V</text><text x="724" y="625">+5V</text><text class="s" transform="translate(519,603) rotate(-90)">GND</text>
<circle class="d" cx="580.3" cy="598.5" r=".9"/><circle class="d" cx="632.8" cy="618.3" r=".9"/><circle class="d" cx="632.8" cy="693.8" r=".9"/><circle class="d" cx="537.7" cy="618.3" r=".9"/><circle class="d" cx="537.7" cy="693.8" r=".9"/><circle class="d" cx="711.8" cy="631.5" r=".9"/><circle class="d" cx="711.8" cy="703.6" r=".9"/>

<!-- L298 -->
<rect class="r" x="110.7" y="785.8" width="66.1" height="92"/><text x="111" y="782">IC4</text>
<path class="r" d="M97.3,812.1 H110.7 M97.3,818.7 H110.7 M97.3,825.4 H110.7 M97.3,831.9 H110.7 M97.3,838.4 H110.7 M97.3,845 H110.7 M176.8,805.6 H190 M176.8,818.7 H190 M176.8,831.9 H190 M176.8,845 H190 M137,772.5 V785.8 M150.3,772.5 V785.8 M170.1,772.5 V785.8 M150.3,877.8 V890 M163.4,877.8 V890"/>
<text class="s" x="116" y="813.5">INPUT1</text><text class="s" x="116" y="820">INPUT2</text><text class="s" x="116" y="826.7">INPUT3</text><text class="s" x="116" y="833.2">INPUT4</text><text class="s" x="116" y="839.7">ENABLE_A</text><text class="s" x="116" y="846.3">ENABLE_B</text>
<text class="s" x="156" y="807">OUT1</text><text class="s" x="156" y="820">OUT2</text><text class="s" x="156" y="833.2">OUT3</text><text class="s" x="156" y="846.3">OUT4</text>
<text class="s" transform="translate(139,803) rotate(-90)">VCC</text><text class="s" transform="translate(152,803) rotate(-90)">GND</text><text class="s" transform="translate(172,803) rotate(-90)">VSS</text>
<text class="s" transform="translate(152,874) rotate(-90)">SEN_A</text><text class="s" transform="translate(165,874) rotate(-90)">SEN_B</text>
<path class="r" d="M132.5,699 L137,694.3 L141.5,699 M145.3,693.8 H155.3"/><text class="s" transform="translate(131,708) rotate(-90)">+5V</text><text x="143" y="691">GND</text>
<path class="g" d="M137,699 V772.5 M150.3,694 V772.5 M137,726.8 H117.8 V735 M117.8,737.8 V746.3 H176.8 M203,746.3 H269.5 M242.3,746.3 V755.2 M242.3,757.8 V772.5 M255.7,746.3 V897.4 M170.1,772.5 H269.5 M203,772.5 V897.4 M216.1,772.5 V897.4 M229.2,772.5 V897.4 M242.3,772.5 V897.4 M150.3,890 V897.4 H360.7 M163.4,890 V897.4"/>
<path class="r" d="M114.3,735 H121.3 M114.3,737.8 H121.3 M238.8,755.2 H245.8 M238.8,757.8 H245.8"/>
<rect class="r" x="176.8" y="741.2" width="26.2" height="10.3"/><path class="p" d="M182,746.3 h2 M195,746.3 h2"/>
<text x="185" y="758">JP1</text><text x="94" y="733">100 nF</text><text x="101" y="745">C14</text><text x="246" y="751">C13</text><text x="246" y="764">100 nF</text>
<circle class="r" cx="272.1" cy="746.3" r="2.4"/><circle class="r" cx="272.1" cy="772.5" r="2.4"/><text x="278" y="748">X5-6</text><text x="278" y="774">X5-5</text>
<text class="gt" x="268" y="759">Zasilanie silników</text>
<use href="#dio" x="203" y="792.5"/><use href="#dio" x="216.1" y="792.5"/><use href="#dio" x="229.2" y="792.5"/><use href="#dio" x="242.3" y="792.5"/>
<use href="#dio" x="203" y="864.8"/><use href="#dio" x="216.1" y="864.8"/><use href="#dio" x="229.2" y="864.8"/><use href="#dio" x="242.3" y="864.8"/>
<text class="s" transform="translate(205,786) rotate(-90)">D5</text><text class="s" transform="translate(218,786) rotate(-90)">D6</text><text class="s" transform="translate(231,786) rotate(-90)">D7</text><text class="s" transform="translate(244,786) rotate(-90)">D8</text>
<text class="s" transform="translate(205,858) rotate(-90)">D1</text><text class="s" transform="translate(218,858) rotate(-90)">D2</text><text class="s" transform="translate(231,858) rotate(-90)">D3</text><text class="s" transform="translate(244,858) rotate(-90)">D4</text>
<path class="g" d="M190,805.6 H295.3 M190,818.7 H295.3 M190,831.9 H281.9 V845 H295.3 M190,845 H268.5 V858.2 H295.3 M334.3,812.1 H360.7 V897.4 M334.3,851.5 H360.7"/>
<circle class="d" cx="242.3" cy="805.6" r=".9"/><circle class="d" cx="229.2" cy="818.7" r=".9"/><circle class="d" cx="216.1" cy="831.9" r=".9"/><circle class="d" cx="203" cy="845" r=".9"/><circle class="d" cx="360.7" cy="851.5" r=".9"/>
<use href="#h3" x="304.8" y="799"/><use href="#h3" x="304.8" y="838.4"/><text x="304" y="796">MOTOR1</text><text x="304" y="835">MOTOR2</text>
<use href="#h8" x="22.5" y="792.4"/><text x="22" y="790">TOL298</text>
<path class="g" d="M52,805.4 H91.3 V812.1 H97.3 M52,811.9 H84.6 V838.4 H97.3 M52,818.4 H97.3 M52,831.4 H58.7 V825.4 H97.3 M52,837.9 H64 V831.9 H97.3 M52,844.4 H78 V845 H97.3"/>
<use href="#h4" x="397" y="812.2"/><text x="397" y="808">WYJSCIE_STEROWANIA_SILNIKÓW</text>
<circle class="r" cx="449.7" cy="818.7" r="2.4"/><circle class="r" cx="449.7" cy="825.2" r="2.4"/><circle class="r" cx="449.7" cy="831.7" r="2.4"/><circle class="r" cx="449.7" cy="838.2" r="2.4"/>
<text x="455" y="820.5">X5-4</text><text x="455" y="827">X5-3</text><text x="455" y="833.5">X5-2</text><text x="455" y="840">X5-1</text>
</svg>
</body></html>
